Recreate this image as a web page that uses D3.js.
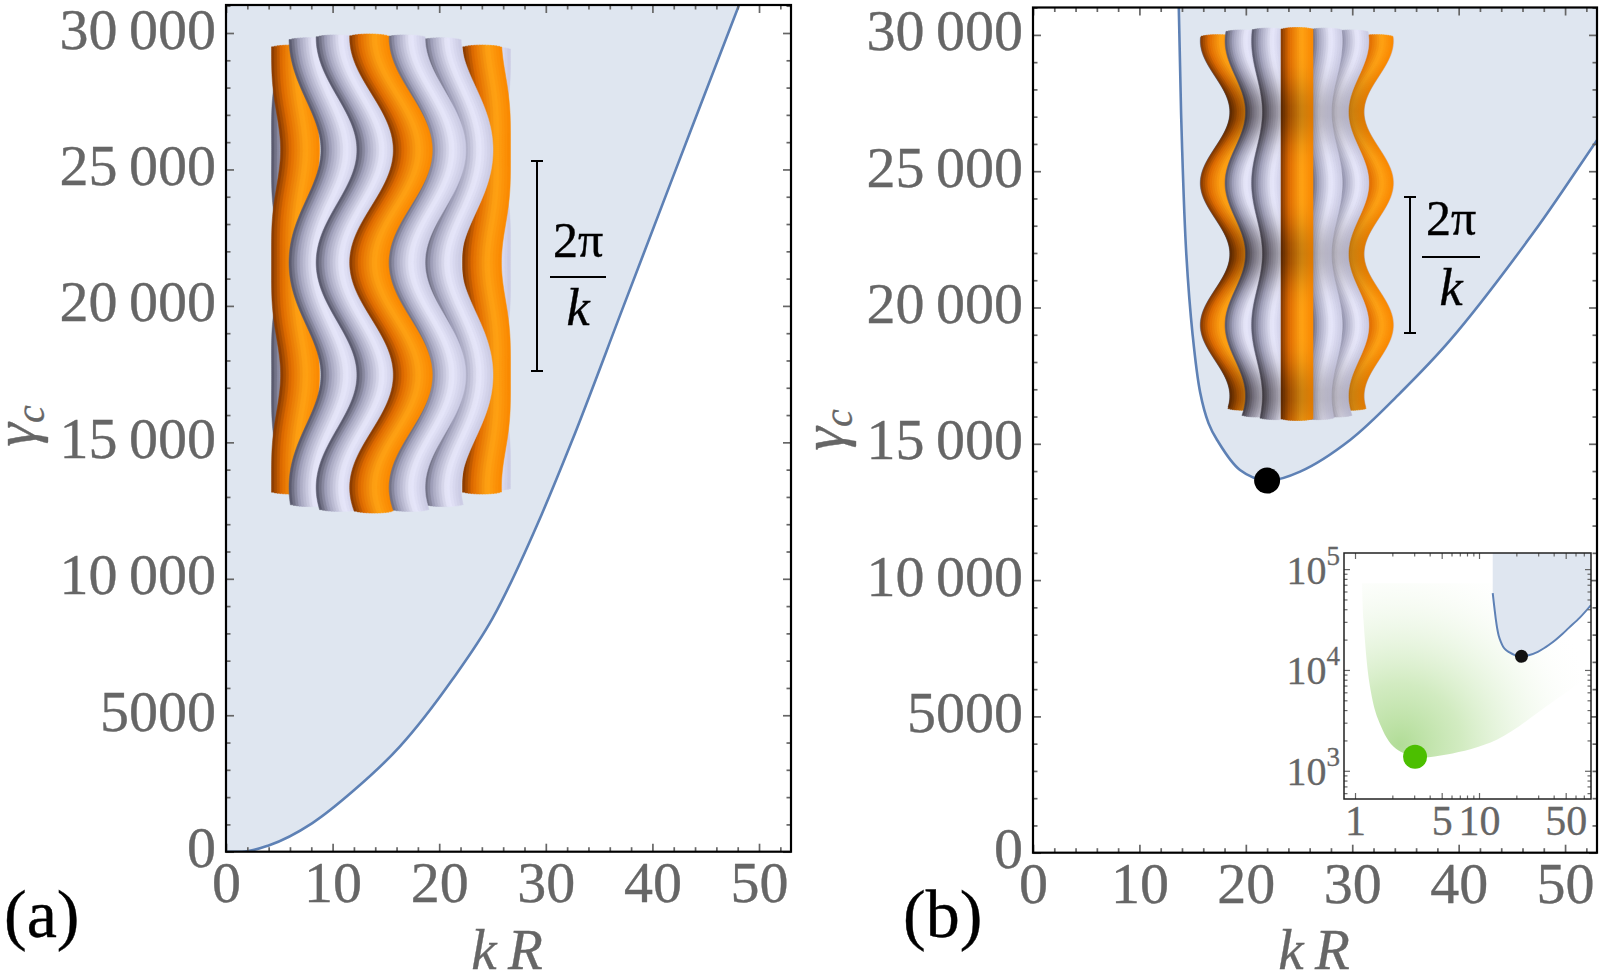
<!DOCTYPE html>
<html>
<head>
<meta charset="utf-8">
<script src="https://cdn.jsdelivr.net/npm/d3@7"></script>
<style>
  body { margin: 0; background: #fff; }
  svg { display: block; }
  text { font-family: "Liberation Serif", "Times New Roman", serif; }
</style>
</head>
<body>
<svg id="fig" width="1602" height="980"></svg>
<script>
// ---- values ----
// (a) critical gamma vs kR
const curveA_kR    = [0, 1.5, 4, 8.1, 12, 16.3, 21.2, 25, 29.6, 32.4, 37.3, 42, 48.2, 49.5];
const curveA_gamma = [0, 0, 230, 1050, 2250, 3850, 6290, 8550, 12350, 15000, 20000, 24800, 31100, 32400];

// (b) critical gamma vs kR (runs past the main frame, used again by the log inset)
const curveB_kR    = [12.9, 13.2, 13.7, 14.0, 14.4, 15.0, 15.7, 16.5, 17.3, 19.45, 22, 25.1, 29.8, 34.5, 39.2, 47, 53, 65, 80];
const curveB_gamma = [57800, 45000, 31000, 26000, 22000, 19000, 16900, 15750, 15140, 14040, 13650, 13980, 15140, 16860, 18800, 22730, 26140, 33000, 44000];
const minB = [22, 13650];

// inset: green region edge and its minimum
const green_kR    = [1.14, 1.17, 1.32, 1.54, 2.04, 3.05, 5.5, 13.9, 35, 69, 80, 80];
const green_gamma = [72600, 31300, 6840, 3200, 1740, 1380, 1450, 2030, 4370, 8000, 9500, 72600];
const minGreen = [3.05, 1377];

// ticks
const xMajor = [0, 10, 20, 30, 40, 50];
const xMinor = d3.range(0, 54, 2).filter(v => v % 10 !== 0);
const yMajor = [0, 5000, 10000, 15000, 20000, 25000, 30000];
const yMinor = d3.range(0, 31001, 1000).filter(v => v % 5000 !== 0);
const insetXMajor = [1, 5, 10, 50];
const insetXMinor = [2, 3, 4, 6, 7, 8, 9, 20, 30, 40, 60, 70];
const insetYMajor = [1e3, 1e4, 1e5];
const insetYMinor = [600, 700, 800, 900].concat(d3.range(2, 10).map(d => d * 1e3), d3.range(2, 10).map(d => d * 1e4));

const svg = d3.select('#fig');
const defs = svg.append('defs');

const lineBlue = '#5e81b5';
const fillBlue = '#dfe6f0';
const tickGray = '#666';
const serif = '"Liberation Serif", "Times New Roman", serif';

// 10000 -> "10 000" with a thin space, 5000 stays as it is
const fmtY = v => v >= 10000 ? d3.format(',')(v).replace(',', '\u2009') : String(v);

function mainPanel(id, box) {
  const x = d3.scaleLinear().domain([0, 53]).range([box.left, box.right]);
  const y = d3.scaleLinear().domain([0, 31000]).range([box.bottom, box.bottom - 31 * box.pxPer1000]);
  defs.append('clipPath').attr('id', 'clip-' + id)
    .append('rect').attr('x', box.left).attr('y', box.top)
    .attr('width', box.right - box.left).attr('height', box.bottom - box.top);
  const g = svg.append('g');
  const plot = g.append('g').attr('clip-path', `url(#clip-${id})`);
  return { x, y, g, plot, box };
}

function drawFrame(p, labelX, labelY) {
  const { x, y, g, box } = p;
  const w = box.right - box.left, h = box.bottom - box.top;
  const ax = g.append('g');
  ax.append('g').attr('transform', `translate(0,${box.bottom})`)
    .call(d3.axisBottom(x).tickValues(xMinor).tickSize(-4.5).tickFormat(''));
  ax.append('g').attr('transform', `translate(0,${box.top})`)
    .call(d3.axisTop(x).tickValues(xMinor).tickSize(-4.5).tickFormat(''));
  ax.append('g').attr('transform', `translate(${box.left},0)`)
    .call(d3.axisLeft(y).tickValues(yMinor).tickSize(-4.5).tickFormat(''));
  ax.append('g').attr('transform', `translate(${box.right},0)`)
    .call(d3.axisRight(y).tickValues(yMinor).tickSize(-4.5).tickFormat(''));
  const xb = ax.append('g').attr('transform', `translate(0,${box.bottom})`)
    .call(d3.axisBottom(x).tickValues(xMajor).tickSize(-8).tickFormat(d3.format('d')));
  xb.selectAll('text').attr('y', 50).attr('dy', null);
  ax.append('g').attr('transform', `translate(0,${box.top})`)
    .call(d3.axisTop(x).tickValues(xMajor).tickSize(-8).tickFormat(''));
  const yl = ax.append('g').attr('transform', `translate(${box.left},0)`)
    .call(d3.axisLeft(y).tickValues(yMajor).tickSize(-8).tickFormat(fmtY));
  yl.selectAll('text').attr('x', -10).attr('y', 15).attr('dy', null);
  ax.append('g').attr('transform', `translate(${box.right},0)`)
    .call(d3.axisRight(y).tickValues(yMajor).tickSize(-8).tickFormat(''));
  ax.selectAll('.domain').remove();
  ax.attr('font-family', serif);
  ax.selectAll('.tick line').attr('stroke', tickGray).attr('stroke-width', 1.7);
  ax.selectAll('.tick text').attr('fill', tickGray).attr('stroke', tickGray).attr('stroke-width', 0.35)
    .attr('font-size', 58).style('font-family', serif);
  g.append('rect').attr('x', box.left).attr('y', box.top).attr('width', w).attr('height', h)
    .attr('fill', 'none').attr('stroke', '#000').attr('stroke-width', 2.2);

  // axis titles
  g.append('text').attr('x', labelX).attr('y', 969).attr('text-anchor', 'middle')
    .attr('fill', tickGray).attr('stroke', tickGray).attr('stroke-width', 0.35)
    .attr('font-size', 57).attr('font-style', 'italic').style('font-family', serif).text('k\u2009R');
  const yt = g.append('text').attr('transform', `translate(${labelY[0]},${labelY[1]}) rotate(-90)`)
    .attr('text-anchor', 'middle').attr('fill', tickGray).attr('stroke', tickGray).attr('stroke-width', 0.35)
    .attr('font-style', 'italic').style('font-family', serif);
  yt.append('tspan').attr('font-size', 60).text('\u03b3');
  yt.append('tspan').attr('font-size', 40).attr('dy', 9).text('c');
}

// ---- cylinder illustrations (orange / lavender tubes round a cylinder) ----
const orangeShade = d3.scaleLinear().domain([-1, -0.45, 0.3, 1])
  .range(['#7c3400', '#e06c00', '#ffa314', '#f98700']).interpolate(d3.interpolateRgb);
const lavShade = d3.scaleLinear().domain([-1, -0.45, 0.3, 1])
  .range(['#4d4d5f', '#a3a3bd', '#e9e9fc', '#c9c9e2']).interpolate(d3.interpolateRgb);
const tubeAngles = [0, 21, 43, 78, 100].map(d => d * Math.PI / 180);
let gradId = 0;

function drawCylinder(parent, c) {
  const g = parent.append('g');
  const tubes = d3.range(-4, 5).map(i => ({ i, th: Math.sign(i) * tubeAngles[Math.abs(i)] }));
  tubes.sort((a, b) => Math.abs(b.i) - Math.abs(a.i));
  const K = 14;
  const line = d3.line();
  tubes.forEach(({ i, th }) => {
    const shade = Math.abs(i) % 3 === 0 ? orangeShade : lavShade;
    const yT = c.top + c.dTop * (1 - Math.cos(Math.min(Math.abs(th), 1.5)));
    const yB = c.bottom - c.dBot * (1 - Math.cos(Math.min(Math.abs(th), 1.5)));
    const centre = yy => c.cx + c.rad(yy) * Math.sin(th + c.twist(yy));
    for (let k = 0; k < K; k++) {
      const u0 = -1 + 2 * k / K, u1 = Math.min(1, u0 + 2 / K + 0.04);
      const um = (u0 + u1) / 2;
      const cap = c.cap * Math.sqrt(Math.max(0, 1 - um * um));
      const ys = d3.range(yT - cap, yB + cap, 2).concat([yB + cap]);
      const left = ys.map(yy => [centre(yy) + u0 * c.r, yy]);
      const right = ys.slice().reverse().map(yy => [centre(yy) + u1 * c.r, yy]);
      let fill = shade(um);
      if (c.dark) {
        // darker where the surface bends in (varicose pinches)
        const id = 'tg' + (gradId++);
        const lg = defs.append('linearGradient').attr('id', id).attr('gradientUnits', 'userSpaceOnUse')
          .attr('x1', 0).attr('x2', 0).attr('y1', yT - cap).attr('y2', yB + cap);
        const span = (yB + cap) - (yT - cap);
        d3.range(0, 1.0001, 1 / 40).forEach(t => {
          const amt = c.dark(yT - cap + t * span, um);
          lg.append('stop').attr('offset', t).attr('stop-color', d3.interpolateRgb(fill, '#1a0d00')(amt));
        });
        fill = `url(#${id})`;
      }
      g.append('path').attr('d', line(left.concat(right)) + 'Z')
        .attr('fill', fill).attr('stroke', fill).attr('stroke-width', 0.5);
    }
  });
}

function drawBracket(parent, xPos, y0, y1, fx, numY, barY, denY, barHalf) {
  const g = parent.append('g').attr('stroke', '#000').attr('stroke-width', 2);
  g.append('line').attr('x1', xPos).attr('x2', xPos).attr('y1', y0).attr('y2', y1);
  g.append('line').attr('x1', xPos - 6).attr('x2', xPos + 6).attr('y1', y0).attr('y2', y0);
  g.append('line').attr('x1', xPos - 6).attr('x2', xPos + 6).attr('y1', y1).attr('y2', y1);
  g.append('line').attr('x1', fx - barHalf).attr('x2', fx + barHalf).attr('y1', barY).attr('y2', barY);
  parent.append('text').attr('x', fx).attr('y', numY).attr('text-anchor', 'middle')
    .attr('font-size', 50).attr('fill', '#000').attr('stroke', '#000').attr('stroke-width', 0.4)
    .style('font-family', serif).text('2\u03c0');
  parent.append('text').attr('x', fx).attr('y', denY).attr('text-anchor', 'middle')
    .attr('font-size', 52).attr('font-style', 'italic').attr('fill', '#000')
    .attr('stroke', '#000').attr('stroke-width', 0.4).style('font-family', serif).text('k');
}

// ================= panel (a) =================
const pa = mainPanel('a', { left: 226, right: 791, top: 5, bottom: 851.7, pxPer1000: 27.29 });
const ptsA = curveA_kR.map((k, i) => [k, curveA_gamma[i]]);
pa.plot.append('path').datum(ptsA)
  .attr('d', d3.area().curve(d3.curveMonotoneX)
    .x(d => pa.x(d[0])).y0(d => pa.y(d[1])).y1(pa.y(40000)))
  .attr('fill', fillBlue);
pa.plot.append('path').datum(ptsA)
  .attr('d', d3.line().curve(d3.curveMonotoneX).x(d => pa.x(d[0])).y(d => pa.y(d[1])))
  .attr('fill', 'none').attr('stroke', lineBlue).attr('stroke-width', 2.6);

drawCylinder(pa.g, {
  cx: 391, top: 37, bottom: 510, dTop: 14, dBot: 24, r: 19.5, cap: 3,
  rad: () => 100,
  twist: yy => 0.22 * Math.cos(2 * Math.PI * (yy - 150) / 225)
});
drawBracket(pa.g, 537, 161, 371, 578, 257, 277, 325, 28);
drawFrame(pa, 507, [35, 426]);
svg.append('text').attr('x', 4).attr('y', 937).attr('font-size', 68).attr('fill', '#000')
  .attr('stroke', '#000').attr('stroke-width', 0.4).style('font-family', serif).text('(a)');

// ================= panel (b) =================
const pb = mainPanel('b', { left: 1033, right: 1597, top: 7.5, bottom: 852.7, pxPer1000: 27.26 });
const ptsB = curveB_kR.map((k, i) => [k, curveB_gamma[i]]);
const curveB = d3.curveCatmullRom.alpha(0.5);
pb.plot.append('path').datum(ptsB)
  .attr('d', d3.area().curve(curveB)
    .x(d => pb.x(d[0])).y0(d => pb.y(d[1])).y1(pb.y(80000)))
  .attr('fill', fillBlue);
pb.plot.append('path').datum(ptsB)
  .attr('d', d3.line().curve(curveB).x(d => pb.x(d[0])).y(d => pb.y(d[1])))
  .attr('fill', 'none').attr('stroke', lineBlue).attr('stroke-width', 2.6);
pb.plot.append('circle').attr('cx', pb.x(minB[0])).attr('cy', pb.y(minB[1])).attr('r', 13).attr('fill', '#000');

drawCylinder(pb.g, {
  cx: 1297, top: 30, bottom: 418, dTop: 9, dBot: 13, r: 16, cap: 2.5,
  rad: yy => 67 + 15 * Math.cos(2 * Math.PI * (yy - 183) / 142),
  twist: () => 0,
  dark: (yy, um) => {
    const pinch = (1 - Math.cos(2 * Math.PI * (yy - 183) / 142)) / 2;
    return 0.42 * Math.pow(pinch, 2) * (1 - 0.35 * (um + 1));
  }
});
drawBracket(pb.g, 1410, 197, 333, 1451, 235, 257, 305, 29);

// ---- inset (log-log) ----
const ib = { left: 1344, right: 1591, top: 553, bottom: 799 };
const ix = d3.scaleLog().domain([0.815, 80]).range([ib.left, ib.right]);
const iy = d3.scaleLog().domain([525, 144500]).range([ib.bottom, ib.top]);
const ig = svg.append('g');
ig.append('rect').attr('x', ib.left).attr('y', ib.top).attr('width', ib.right - ib.left)
  .attr('height', ib.bottom - ib.top).attr('fill', '#fff');
defs.append('clipPath').attr('id', 'clip-inset').append('rect')
  .attr('x', ib.left).attr('y', ib.top).attr('width', ib.right - ib.left).attr('height', ib.bottom - ib.top);
const glow = defs.append('radialGradient').attr('id', 'greenGlow')
  .attr('gradientUnits', 'userSpaceOnUse').attr('cx', 1400).attr('cy', 745).attr('r', 205);
[[0, '#a3d684', 0.85], [0.3, '#b6df9b', 0.62], [0.6, '#d2ecc2', 0.32], [0.85, '#eef8e8', 0.1], [1, '#ffffff', 0]].forEach(s =>
  glow.append('stop').attr('offset', s[0]).attr('stop-color', s[1]).attr('stop-opacity', s[2]));
const iplot = ig.append('g').attr('clip-path', 'url(#clip-inset)');
const ptsG = green_kR.map((k, i) => [k, green_gamma[i]]);
iplot.append('path')
  .attr('d', d3.line().curve(d3.curveCatmullRom.alpha(0.5)).x(d => ix(d[0])).y(d => iy(d[1]))(ptsG) + 'Z')
  .attr('fill', 'url(#greenGlow)');
iplot.append('path').datum(ptsB)
  .attr('d', d3.area().curve(curveB).x(d => ix(d[0])).y0(d => iy(d[1])).y1(iy(1e6)))
  .attr('fill', fillBlue);
iplot.append('path').datum(ptsB)
  .attr('d', d3.line().curve(curveB).x(d => ix(d[0])).y(d => iy(d[1])))
  .attr('fill', 'none').attr('stroke', lineBlue).attr('stroke-width', 2);
iplot.append('circle').attr('cx', ix(minB[0])).attr('cy', iy(minB[1])).attr('r', 6.5).attr('fill', '#111');
iplot.append('circle').attr('cx', ix(minGreen[0])).attr('cy', iy(minGreen[1])).attr('r', 12).attr('fill', '#4cbf00');

const iax = ig.append('g').attr('font-family', serif);
iax.append('g').attr('transform', `translate(0,${ib.bottom})`)
  .call(d3.axisBottom(ix).tickValues(insetXMinor).tickSize(-3.5).tickFormat(''));
iax.append('g').attr('transform', `translate(0,${ib.top})`)
  .call(d3.axisTop(ix).tickValues(insetXMinor).tickSize(-3.5).tickFormat(''));
iax.append('g').attr('transform', `translate(${ib.left},0)`)
  .call(d3.axisLeft(iy).tickValues(insetYMinor).tickSize(-3.5).tickFormat(''));
iax.append('g').attr('transform', `translate(${ib.right},0)`)
  .call(d3.axisRight(iy).tickValues(insetYMinor).tickSize(-3.5).tickFormat(''));
const ixb = iax.append('g').attr('transform', `translate(0,${ib.bottom})`)
  .call(d3.axisBottom(ix).tickValues(insetXMajor).tickSize(-6).tickFormat(d3.format('d')));
ixb.selectAll('text').attr('y', 36).attr('dy', null);
iax.append('g').attr('transform', `translate(0,${ib.top})`)
  .call(d3.axisTop(ix).tickValues(insetXMajor).tickSize(-6).tickFormat(''));
const iyl = iax.append('g').attr('transform', `translate(${ib.left},0)`)
  .call(d3.axisLeft(iy).tickValues(insetYMajor).tickSize(-6).tickFormat(''));
iax.append('g').attr('transform', `translate(${ib.right},0)`)
  .call(d3.axisRight(iy).tickValues(insetYMajor).tickSize(-6).tickFormat(''));
iax.selectAll('.domain').remove();
iax.selectAll('.tick line').attr('stroke', tickGray).attr('stroke-width', 1.2);
ixb.selectAll('text').attr('fill', tickGray).attr('stroke', tickGray).attr('stroke-width', 0.3)
  .attr('font-size', 42).style('font-family', serif);
iyl.selectAll('.tick').each(function (d) {
  const t = d3.select(this).append('text').attr('x', -4).attr('y', 14).attr('text-anchor', 'end')
    .attr('fill', tickGray).attr('stroke', tickGray).attr('stroke-width', 0.3).style('font-family', serif);
  t.append('tspan').attr('font-size', 40).text('10');
  t.append('tspan').attr('font-size', 27).attr('dy', -19).text(Math.round(Math.log10(d)));
});
ig.append('rect').attr('x', ib.left).attr('y', ib.top).attr('width', ib.right - ib.left)
  .attr('height', ib.bottom - ib.top).attr('fill', 'none').attr('stroke', '#222').attr('stroke-width', 1.5);

drawFrame(pb, 1314, [843, 430]);
svg.append('text').attr('x', 903).attr('y', 937).attr('font-size', 68).attr('fill', '#000')
  .attr('stroke', '#000').attr('stroke-width', 0.4).style('font-family', serif).text('(b)');
</script>
</body>
</html>
